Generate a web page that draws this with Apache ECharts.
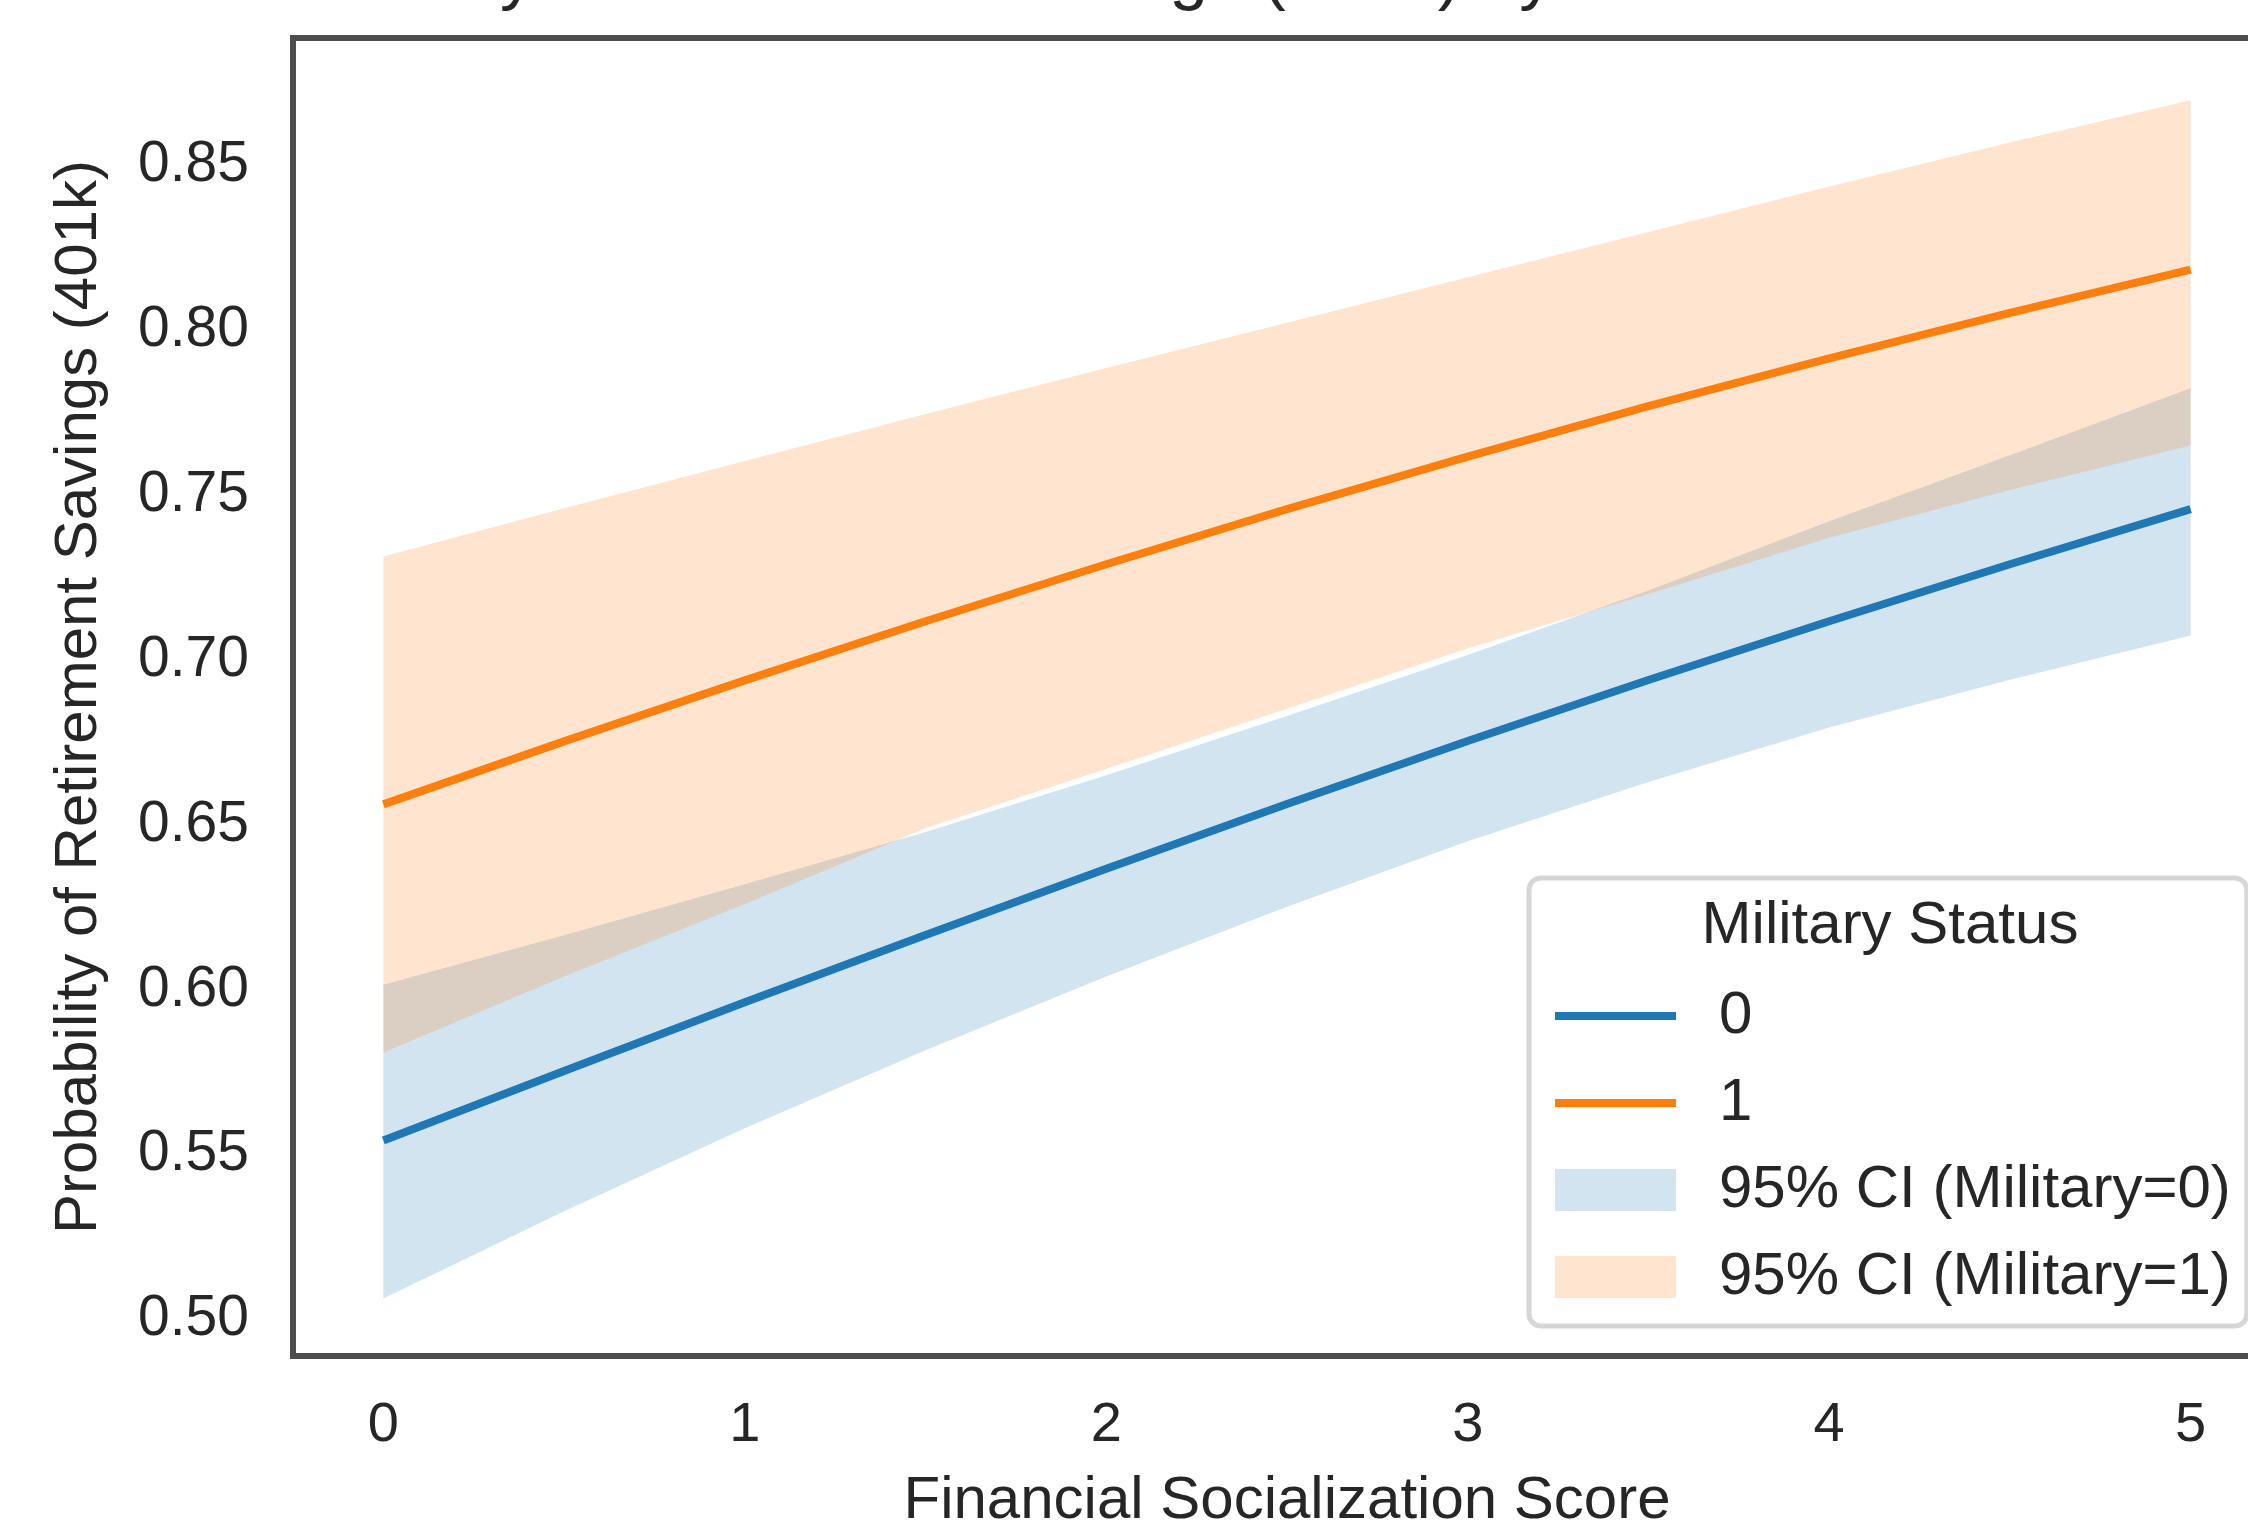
<!DOCTYPE html>
<html>
<head>
<meta charset="utf-8">
<script src="https://cdn.jsdelivr.net/npm/echarts@6/dist/echarts.min.js"></script>
<style>
  html, body { margin: 0; padding: 0; background: #fff; }
  #chart { width: 2248px; height: 1532px; }
</style>
</head>
<body>
<div id="chart"></div>
<script>
const FONT = '"Liberation Sans", Arial, sans-serif'
const TEXT = '#262626'

// financial socialization score
const xValues = [0, 0.5, 1, 1.5, 2, 2.5, 3, 3.5, 4, 4.5, 5]
const xTicks = [0, 1, 2, 3, 4, 5]
const yTicks = [0.5, 0.55, 0.6, 0.65, 0.7, 0.75, 0.8, 0.85]

// predicted probability, military = 0 / 1
const probMil0 = [0.5543, 0.5754, 0.5962, 0.6166, 0.6367, 0.6563, 0.6754, 0.6939, 0.7117, 0.7290, 0.7457]
const probMil1 = [0.6562, 0.6753, 0.6938, 0.7117, 0.7290, 0.7457, 0.7616, 0.7769, 0.7914, 0.8052, 0.8183]

// 95% CI bounds
const ciLow0 = [0.5064, 0.5329, 0.5580, 0.5817, 0.6040, 0.6252, 0.6450, 0.6630, 0.6795, 0.6940, 0.7074]
const ciHigh0 = [0.6015, 0.6165, 0.6320, 0.6478, 0.6650, 0.6830, 0.7015, 0.7210, 0.7420, 0.7620, 0.7823]
const ciLow1 = [0.5810, 0.6040, 0.6260, 0.6490, 0.6670, 0.6852, 0.7035, 0.7200, 0.7370, 0.7515, 0.7650]
const ciHigh1 = [0.7313, 0.7460, 0.7603, 0.7745, 0.7885, 0.8022, 0.8160, 0.8297, 0.8435, 0.8568, 0.8696]

const BLUE = '#1f77b4'
const ORANGE = '#ff7f0e'
const LINE_W = 8

const chart = echarts.init(document.getElementById('chart'))

// band drawn as one polygon through the axes (fill_between)
const bandSeries = (name, low, high, fill) => ({
  type: 'custom',
  name,
  silent: true,
  z: 1,
  itemStyle: { color: fill },
  data: xValues.map((x, i) => [x, low[i], high[i]]),
  encode: { x: 0, y: [1, 2] },
  renderItem: (params, api) => {
    if (params.dataIndex !== 0) return
    const top = xValues.map((x, i) => api.coord([x, high[i]]))
    const bottom = xValues.map((x, i) => api.coord([x, low[i]])).reverse()
    return {
      type: 'polygon',
      shape: { points: top.concat(bottom) },
      style: { fill, stroke: null },
    }
  },
})

const lineSeries = (name, values, color) => ({
  type: 'line',
  name,
  z: 3,
  symbol: 'none',
  lineStyle: { color, width: LINE_W },
  itemStyle: { color },
  data: xValues.map((x, i) => [x, values[i]]),
})

chart.setOption({
  animation: false,
  backgroundColor: '#fff',
  textStyle: { fontFamily: FONT, color: TEXT },
  grid: {
    left: 293, top: 38, right: -33, bottom: 176,
    show: true, borderColor: '#4d4d4d', borderWidth: 6,
    outerBoundsMode: 'none',
  },
  xAxis: {
    type: 'value',
    min: -0.25, max: 5.25,
    name: 'Financial Socialization Score',
    nameLocation: 'middle', nameGap: 115,
    nameTextStyle: { fontSize: 60, color: TEXT, fontFamily: FONT },
    axisLine: { show: false }, axisTick: { show: false }, splitLine: { show: false },
    axisLabel: { customValues: xTicks, fontSize: 56, color: TEXT, fontFamily: FONT, margin: 42 },
  },
  yAxis: {
    type: 'value',
    min: 0.489, max: 0.8885,
    name: 'Probability of Retirement Savings (401k)',
    nameLocation: 'middle', nameGap: 184,
    nameTextStyle: { fontSize: 60, color: TEXT, fontFamily: FONT },
    axisLine: { show: false }, axisTick: { show: false }, splitLine: { show: false },
    axisLabel: {
      customValues: yTicks, fontSize: 57, color: TEXT, fontFamily: FONT, margin: 44,
      formatter: (v) => v.toFixed(2),
    },
  },
  legend: {
    orient: 'vertical',
    left: 1529, top: 878,
    padding: [108, 16, 19, 22],
    itemWidth: 121, itemHeight: 42, itemGap: 27,
    backgroundColor: '#fff', borderColor: '#d6d6d6', borderWidth: 5, borderRadius: 12,
    textStyle: { fontSize: 60, color: TEXT, fontFamily: FONT, padding: [0, 0, 0, 38] },
    lineStyle: { width: LINE_W },
    selectedMode: false,
    data: [
      { name: '0', icon: 'inherit', itemStyle: { opacity: 0 } },
      { name: '1', icon: 'inherit', itemStyle: { opacity: 0 } },
      { name: '95% CI (Military=0)', icon: 'rect' },
      { name: '95% CI (Military=1)', icon: 'rect' },
    ],
  },
  graphic: [
    { // title, mostly cut off above the picture
      type: 'text', x: -107, y: -23, z: 100,
      style: {
        text: 'Predicted Probability of Retirement Savings (401k) by Financial Socialization and Military Status',
        font: '70px ' + FONT, fill: TEXT, align: 'left', verticalAlign: 'middle',
      },
    },
    { // legend title
      type: 'text', x: 1890, y: 926, z: 100,
      style: { text: 'Military Status', font: '60px ' + FONT, fill: TEXT, align: 'center', verticalAlign: 'middle' },
    },
  ],
  series: [
    bandSeries('95% CI (Military=0)', ciLow0, ciHigh0, 'rgba(31,119,180,0.2)'),
    bandSeries('95% CI (Military=1)', ciLow1, ciHigh1, 'rgba(255,127,14,0.2)'),
    lineSeries('0', probMil0, BLUE),
    lineSeries('1', probMil1, ORANGE),
  ],
})
</script>
</body>
</html>
